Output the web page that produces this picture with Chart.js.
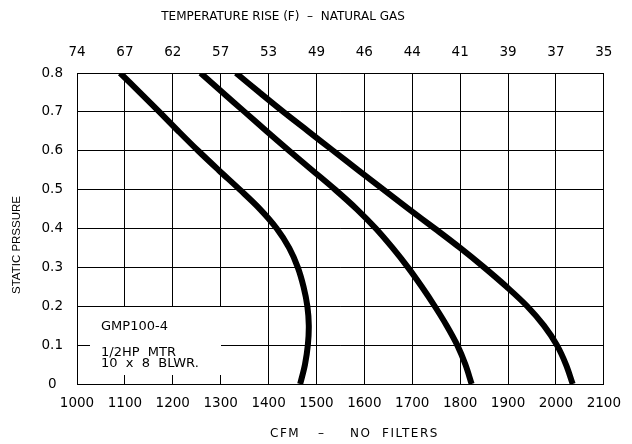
<!DOCTYPE html>
<html>
<head>
<meta charset="utf-8">
<script src="https://cdn.jsdelivr.net/npm/chart.js@4"></script>
<style>
  html, body { margin: 0; padding: 0; background: #fff; }
  #wrap { width: 632px; height: 444px; }
</style>
</head>
<body>
<div id="wrap"><canvas id="blowerChart"></canvas></div>
<script>
// static pressure points (in. w.c.) shared by all three curves
const pressure = [0.8, 0.75, 0.7, 0.65, 0.6, 0.55, 0.5, 0.45, 0.4, 0.35, 0.3, 0.25, 0.2, 0.15, 0.1, 0.05, 0];

// CFM
const cfmLow  = [1090, 1131, 1172, 1212, 1253, 1296, 1340, 1382, 1417, 1443, 1461, 1473, 1481, 1484, 1482, 1476, 1466];
const cfmMed  = [1258, 1304, 1350, 1396, 1443, 1491, 1539, 1584, 1624, 1659, 1691, 1720, 1747, 1772, 1794, 1811, 1824];
const cfmHigh = [1332, 1381, 1431, 1483, 1535, 1587, 1640, 1693, 1747, 1800, 1850, 1897, 1940, 1975, 2002, 2021, 2035];

// top axis labels (temperature rise, F) for 1000..2100 CFM
const tempRise = ['74', '67', '62', '57', '53', '49', '46', '44', '41', '39', '37', '35'];

const noteLines = ['GMP100-4', '1/2HP  MTR', '10  x  8  BLWR.'];

const toPoints = (xs) => xs.map((x, i) => ({ x: x, y: pressure[i] }));

Chart.defaults.font.family = "'DejaVu Sans', sans-serif";
Chart.defaults.font.size = 13;
Chart.defaults.color = '#000';

const curveStyle = {
    borderColor: '#000',
    borderWidth: 6,
    pointRadius: 0,
    tension: 0.35,
    fill: false
};

// titles + the little spec box, drawn on top of the grid
const textPlugin = {
    id: 'cadText',
    afterDraw(chart) {
        const ctx = chart.ctx;
        const a = chart.chartArea;
        ctx.save();
        ctx.fillStyle = '#000';
        ctx.textBaseline = 'middle';

        ctx.font = "12px 'DejaVu Sans'";
        ctx.textAlign = 'center';
        ctx.fillText('TEMPERATURE RISE (F)  \u2013  NATURAL GAS', 283, 17);

        ctx.textAlign = 'left';
        ctx.letterSpacing = '1.5px';
        ctx.fillText('CFM', 270, 434);
        ctx.fillText('\u2013', 318, 434);
        ctx.fillText('NO  FILTERS', 350, 434);
        ctx.letterSpacing = '0px';

        ctx.save();
        ctx.translate(17, 245);
        ctx.rotate(-Math.PI / 2);
        ctx.textAlign = 'center';
        ctx.font = "11.5px 'Liberation Sans'";
        ctx.fillText('STATIC PRSSURE', 0, 0);
        ctx.restore();

        // white box over the grid for the model note
        ctx.fillStyle = '#fff';
        ctx.fillRect(a.left + 13, 307, 131, 68);
        ctx.fillStyle = '#000';
        ctx.font = "13px 'DejaVu Sans'";
        ctx.textAlign = 'left';
        ctx.fillText(noteLines[0], 101, 327);
        ctx.fillText(noteLines[1], 101, 353);
        ctx.fillText(noteLines[2], 101, 364);
        ctx.restore();
    }
};

const ctx = document.getElementById('blowerChart').getContext('2d');
new Chart(ctx, {
    type: 'line',
    data: {
        datasets: [
            Object.assign({ label: 'Low', data: toPoints(cfmLow) }, curveStyle),
            Object.assign({ label: 'Medium', data: toPoints(cfmMed) }, curveStyle),
            Object.assign({ label: 'High', data: toPoints(cfmHigh) }, curveStyle)
        ]
    },
    options: {
        responsive: true,
        maintainAspectRatio: false,
        animation: false,
        layout: { padding: { left: 0, right: 20, top: 0, bottom: 0 } },
        plugins: {
            legend: { display: false },
            tooltip: { enabled: false }
        },
        scales: {
            x: {
                type: 'linear',
                position: 'bottom',
                min: 1000,
                max: 2100,
                ticks: { stepSize: 100, padding: 11, maxRotation: 0, font: { size: 13.5 }, callback: (v) => String(v) },
                grid: { color: '#000', lineWidth: 1, drawTicks: false },
                border: { color: '#000', width: 1 },
                afterFit: (s) => { s.height = 60; }
            },
            xTop: {
                type: 'linear',
                position: 'top',
                min: 1000,
                max: 2100,
                ticks: {
                    stepSize: 100,
                    padding: 12,
                    maxRotation: 0,
                    font: { size: 13.5 },
                    callback: (v) => tempRise[Math.round((v - 1000) / 100)]
                },
                grid: { display: false, drawTicks: false },
                border: { color: '#000', width: 1 },
                afterFit: (s) => { s.height = 73; }
            },
            y: {
                min: 0,
                max: 0.8,
                ticks: {
                    stepSize: 0.1,
                    padding: 14,
                    crossAlign: 'center',
                    font: { size: 13.5 },
                    callback: (v) => v === 0 ? '0' : v.toFixed(1)
                },
                grid: { color: '#000', lineWidth: 1, drawTicks: false },
                border: { color: '#000', width: 1 },
                afterFit: (s) => { s.width = 77; }
            }
        }
    },
    plugins: [textPlugin]
});
</script>
</body>
</html>
